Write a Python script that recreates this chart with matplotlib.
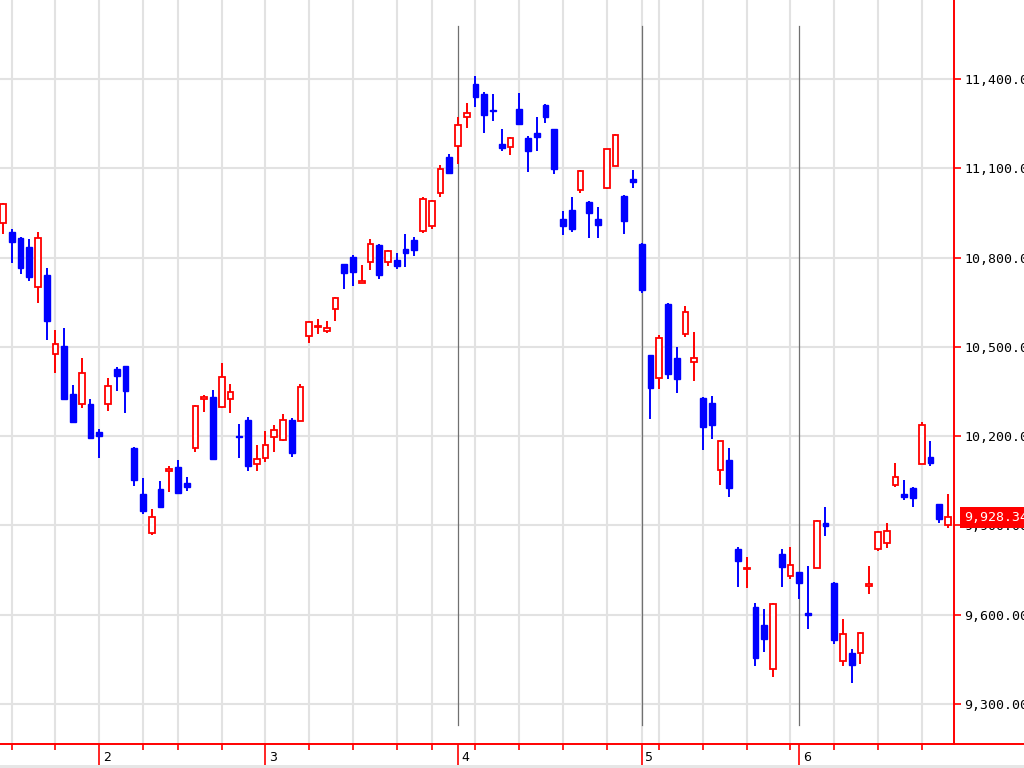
import numpy as np
import matplotlib
matplotlib.use("Agg")
import matplotlib.pyplot as plt
from matplotlib.lines import Line2D
from matplotlib.patches import Rectangle

# daily candles, mid Jan to late Jun (one entry per trading day)
opens = [10916, 10887, 10867, 10834, 10701, 10741, 10475, 10504, 10342, 10307,
         10308, 10213, 10307, 10426, 10435, 10161, 10006, 9876, 10023, 10084,
         10098, 10044, 10159, 10324, 10333, 10297, 10324, 10202, 10254, 10107,
         10126, 10198, 10187, 10254, 10252, 10537, 10566, 10554, 10626, 10777,
         10803, 10716, 10785, 10842, 10785, 10792, 10829, 10858, 10890, 10906,
         11018, 11139, 11175, 11271, 11383, 11350, 11296, 11182, 11173, 11299,
         11202, 11218, 11312, 11231, 10929, 10959, 11028, 10987, 10931, 11035,
         11108, 11007, 11065, 10846, 10472, 10394, 10644, 10464, 10542, 10450,
         10329, 10312, 10085, 10119, 9822, 9753, 9627, 9566, 9417, 9804,
         9730, 9745, 9605, 9756, 9908, 9706, 9446, 9473, 9471, 9698,
         9820, 9840, 10037, 10006, 10027, 10106, 10131, 9971, 9901]
highs = [10985, 10896, 10869, 10862, 10887, 10766, 10557, 10564, 10371, 10464,
         10325, 10223, 10396, 10433, 10437, 10165, 10061, 9955, 10049, 10100,
         10120, 10062, 10305, 10337, 10355, 10447, 10375, 10241, 10265, 10169,
         10216, 10237, 10275, 10260, 10375, 10588, 10595, 10588, 10667, 10778,
         10809, 10775, 10862, 10846, 10825, 10816, 10879, 10870, 11003, 10993,
         11110, 11148, 11273, 11318, 11410, 11355, 11350, 11231, 11206, 11354,
         11210, 11271, 11316, 11233, 10956, 11003, 11094, 10989, 10969, 11166,
         11215, 11009, 11094, 10848, 10472, 10540, 10646, 10501, 10637, 10551,
         10331, 10335, 10185, 10161, 9829, 9793, 9641, 9618, 9639, 9821,
         9829, 9745, 9764, 9918, 9961, 9711, 9587, 9485, 9542, 9764,
         9881, 9909, 10109, 10053, 10028, 10249, 10183, 9972, 10006]
lows = [10878, 10781, 10746, 10721, 10646, 10523, 10411, 10320, 10245, 10294,
        10190, 10126, 10285, 10352, 10277, 10034, 9938, 9868, 9960, 10013,
        10008, 10017, 10146, 10280, 10120, 10295, 10277, 10126, 10084, 10084,
        10112, 10148, 10185, 10129, 10252, 10512, 10543, 10548, 10588, 10695,
        10705, 10715, 10758, 10729, 10772, 10763, 10767, 10805, 10884, 10897,
        11003, 11083, 11114, 11234, 11305, 11218, 11259, 11157, 11146, 11250,
        11087, 11157, 11253, 11081, 10875, 10887, 11018, 10865, 10865, 11031,
        11108, 10879, 11033, 10680, 10257, 10360, 10391, 10344, 10532, 10386,
        10154, 10192, 10037, 9995, 9692, 9689, 9428, 9474, 9390, 9692,
        9721, 9654, 9553, 9756, 9865, 9501, 9428, 9372, 9435, 9669,
        9814, 9824, 10028, 9986, 9961, 10106, 10100, 9907, 9891]
closes = [10979, 10851, 10764, 10735, 10867, 10587, 10509, 10324, 10248, 10412,
          10193, 10202, 10370, 10403, 10352, 10053, 9949, 9930, 9963, 10090,
          10008, 10030, 10302, 10333, 10122, 10400, 10349, 10196, 10100, 10123,
          10169, 10220, 10253, 10143, 10366, 10585, 10570, 10564, 10664, 10747,
          10752, 10722, 10846, 10742, 10823, 10772, 10814, 10826, 10998, 10989,
          11099, 11085, 11244, 11287, 11338, 11279, 11292, 11167, 11201, 11250,
          11159, 11204, 11271, 11099, 10907, 10897, 11090, 10949, 10910, 11164,
          11211, 10923, 11055, 10691, 10361, 10531, 10408, 10391, 10618, 10462,
          10231, 10239, 10185, 10025, 9782, 9758, 9454, 9518, 9636, 9760,
          9766, 9706, 9600, 9915, 9899, 9515, 9535, 9432, 9540, 9704,
          9879, 9882, 10064, 9995, 9992, 10237, 10109, 9921, 9928.34]

week_starts = [1, 6, 11, 16, 20, 25, 30, 35, 40, 45, 49, 54, 59, 64, 69, 73,
               75, 80, 85, 90, 95, 100, 105]
month_starts = [11, 30, 52, 73, 91]
month_labels = ["2", "3", "4", "5", "6"]
marker_lines = [52, 73, 91]
price_levels = [9300, 9600, 9900, 10200, 10500, 10800, 11100, 11400]
last_price = closes[-1]

RED = "#ff0000"
BLUE = "#0000ff"
GRID = "#e2e2e2"

fig = plt.figure(figsize=(10.24, 7.68), dpi=100)
ax = fig.add_axes([0, 24 / 768, 954 / 1024, 744 / 768])
ax.set_xlim(-0.343, 108.69)
ax.set_ylim(9165.9, 11665.4)

# grid
for lv in price_levels:
    ax.axhline(lv, color=GRID, lw=1.5, zorder=1)
for w in week_starts:
    ax.axvline(w, color=GRID, lw=1.5, zorder=1)
for m in marker_lines:
    ax.axvline(m, ymin=0.026, ymax=0.965, color="#707070", lw=0.9, zorder=2)

# candles
x = np.arange(len(closes))
o = np.array(opens, dtype=float)
h = np.array(highs, dtype=float)
l = np.array(lows, dtype=float)
c = np.array(closes, dtype=float)
up = c >= o

wick_colors = np.where(up, RED, BLUE)
ax.vlines(x, l, h, colors=wick_colors, lw=1.4, zorder=3)

body_low = np.minimum(o, c)
body_h = np.maximum(np.abs(c - o), 5)
ax.bar(x[up], body_h[up], bottom=body_low[up], width=0.66,
       facecolor="white", edgecolor=RED, linewidth=1.3, zorder=4)
ax.bar(x[~up], body_h[~up], bottom=body_low[~up], width=0.66,
       facecolor=BLUE, edgecolor=BLUE, linewidth=1.0, zorder=4)

# axes styling
for side in ["top", "left", "bottom"]:
    ax.spines[side].set_visible(False)
ax.spines["right"].set_color(RED)
ax.spines["right"].set_linewidth(1.4)

ax.yaxis.tick_right()
ax.set_yticks(price_levels)
ax.set_yticklabels([f"{v:,.2f}" for v in price_levels])
ax.tick_params(axis="y", direction="out", length=5, width=1.2, color=RED,
               labelcolor="black", labelsize=9.5, pad=2.5)
for lab in ax.get_yticklabels():
    lab.set_fontfamily("DejaVu Sans Mono")

ax.set_xticks(month_starts)
ax.set_xticklabels([])
ax.set_xticks(week_starts, minor=True)
ax.tick_params(axis="x", which="major", direction="out", length=15, width=1.2, color=RED)
ax.tick_params(axis="x", which="minor", direction="out", length=4, width=1.2, color=RED)

for m, lab in zip(month_starts, month_labels):
    ax.annotate(lab, xy=(m, 0), xycoords=("data", "axes fraction"),
                xytext=(2.5, -10), textcoords="offset points",
                ha="left", va="center", fontsize=9, color="black",
                annotation_clip=False)

# bottom axis line runs across the whole window
fig.add_artist(Line2D([0, 1], [24 / 768, 24 / 768], transform=fig.transFigure,
                      color=RED, lw=1.4))
fig.add_artist(Rectangle((0, 0), 1, 3 / 768, transform=fig.transFigure,
                         facecolor="#e6e6e6", edgecolor="none"))

# last price tag
ax.annotate(f"{last_price:,.2f}", xy=(1, last_price), xycoords=("axes fraction", "data"),
            xytext=(7, 0), textcoords="offset points", ha="left", va="center",
            fontsize=9.5, family="DejaVu Sans Mono", color="white",
            bbox=dict(boxstyle="square,pad=0.3", facecolor=RED, edgecolor="none"),
            annotation_clip=False, zorder=10)

fig.savefig("out.png", dpi=100)
